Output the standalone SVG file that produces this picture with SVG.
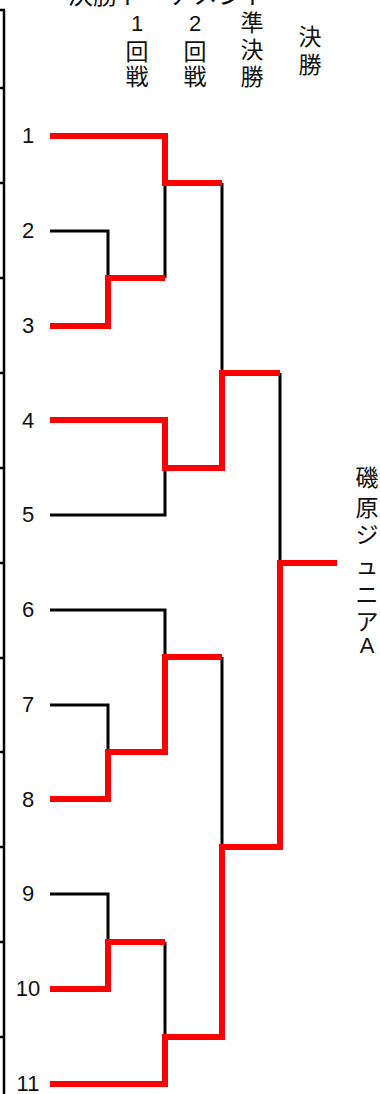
<svg xmlns="http://www.w3.org/2000/svg" width="380" height="1094" viewBox="0 0 380 1094">
<style>
.bg{fill:#ffffff}
.t{font-family:"Liberation Sans","Noto Sans CJK JP",sans-serif;font-size:23px;fill:#111111;text-anchor:middle}
.n{font-family:"Liberation Sans","Noto Sans CJK JP",sans-serif;font-size:22px;fill:#111111;text-anchor:middle}
.k{fill:none;stroke:#000000;stroke-width:3;stroke-linejoin:miter;stroke-linecap:butt}
.r{fill:none;stroke:#ff0000;stroke-width:6;stroke-linejoin:miter;stroke-linecap:butt}
.b{fill:none;stroke:#000000;stroke-width:2.5}
</style>
<rect class="bg" x="0" y="0" width="380" height="1094"/>
<g id="title"><text class="t" x="168" y="4" style="font-size:25px">決勝トーナメント</text></g>
<g id="border">
<path class="b" d="M4,10 V1094 M0,10 H5 M0,88 H5 M0,183 H5 M0,278 H5 M0,373 H5 M0,468 H5 M0,563 H5 M0,658 H5 M0,752 H5 M0,847 H5 M0,942 H5 M0,1037 H5"/>
</g>
<g id="header-r1"><text class="n" x="137" y="31">1</text><text class="t" x="137" y="60">回</text><text class="t" x="137" y="85">戦</text></g>
<g id="header-r2"><text class="n" x="195" y="31">2</text><text class="t" x="195" y="60">回</text><text class="t" x="195" y="85">戦</text></g>
<g id="header-sf"><text class="t" x="252" y="31">準</text><text class="t" x="252" y="58">決</text><text class="t" x="252" y="85">勝</text></g>
<g id="header-f"><text class="t" x="310" y="45">決</text><text class="t" x="310" y="73">勝</text></g>
<g id="p1"><text class="n" x="28" y="143">1</text></g>
<g id="p2"><text class="n" x="28" y="238">2</text></g>
<g id="p3"><text class="n" x="28" y="333">3</text></g>
<g id="p4"><text class="n" x="28" y="428">4</text></g>
<g id="p5"><text class="n" x="28" y="522">5</text></g>
<g id="p6"><text class="n" x="28" y="617">6</text></g>
<g id="p7"><text class="n" x="28" y="712">7</text></g>
<g id="p8"><text class="n" x="28" y="807">8</text></g>
<g id="p9"><text class="n" x="28" y="901">9</text></g>
<g id="p10"><text class="n" x="28" y="996">10</text></g>
<g id="p11"><text class="n" x="28" y="1091">11</text></g>
<g id="winner">
<text class="t" x="367" y="486">磯</text>
<text class="t" x="367" y="516">原</text>
<text class="t" x="367" y="543">ジ</text>
<text class="t" x="367" y="574">ュ</text>
<text class="t" x="367" y="603">ニ</text>
<text class="t" x="367" y="630">ア</text>
<text class="n" x="367" y="653">A</text>
</g>
<g id="connectors">
<path class="k" d="M50,231 H108 V278"/>
<path class="k" d="M165,183 V278"/>
<path class="k" d="M50,515 H165 V468"/>
<path class="k" d="M222,183 V373"/>
<path class="k" d="M280,373 V563"/>
<path class="k" d="M50,610 H165 V657"/>
<path class="k" d="M50,705 H108 V752"/>
<path class="k" d="M222,657 V847"/>
<path class="k" d="M50,894 H108 V942"/>
<path class="k" d="M165,942 V1037"/>
<path class="r" d="M50,136 H165 V183 H222"/>
<path class="r" d="M50,326 H108 V278 H165"/>
<path class="r" d="M50,420 H165 V468 H222 V373 H280"/>
<path class="r" d="M50,799 H108 V752 H165 V657 H222"/>
<path class="r" d="M50,989 H108 V942 H165"/>
<path class="r" d="M50,1084 H165 V1037 H222 V847 H280 V563 H337"/>
</g>
</svg>
